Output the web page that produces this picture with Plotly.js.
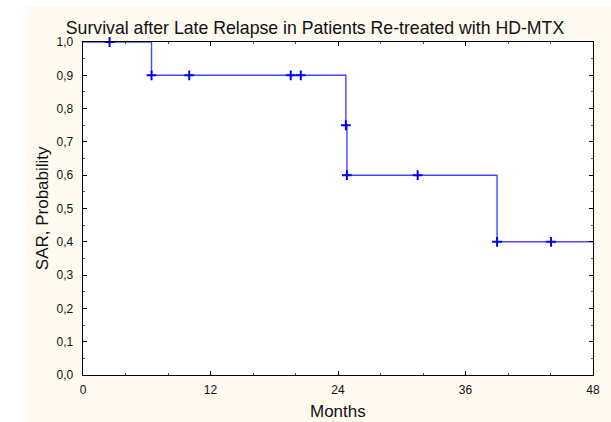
<!DOCTYPE html>
<html>
<head>
<meta charset="utf-8">
<script src="https://cdn.plot.ly/plotly-3.0.1.min.js"></script>
<style>
  html, body { margin: 0; padding: 0; background: #ffffff; width: 611px; height: 422px; overflow: hidden; }
  #chart { position: absolute; left: 26px; top: 6px; width: 585px; height: 416px; }
</style>
</head>
<body>
<div id="chart"></div>
<script>
// Kaplan-Meier step curve (months, survival probability)
const stepMonths = [0, 6.45, 24.74, 24.84, 38.97, 48];
const stepSurvival = [1.0, 0.9, 0.75, 0.6, 0.4, 0.4];

// Plus markers along the curve
const markMonths = [2.5, 6.45, 10.0, 19.55, 20.5, 24.74, 24.84, 31.5, 38.97, 44.05];
const markSurvival = [1.0, 0.9, 0.9, 0.9, 0.9, 0.75, 0.6, 0.6, 0.4, 0.4];

const xTicks = [0, 12, 24, 36, 48];
const yTicks = [0, 0.1, 0.2, 0.3, 0.4, 0.5, 0.6, 0.7, 0.8, 0.9, 1.0];

const font = 'Liberation Sans, Arial, sans-serif';

const traces = [
  {
    x: stepMonths, y: stepSurvival,
    type: 'scatter', mode: 'lines',
    line: { shape: 'hv', color: '#4646ff', width: 1.4 },
    cliponaxis: false, hoverinfo: 'skip'
  },
  {
    x: markMonths, y: markSurvival,
    type: 'scatter', mode: 'markers',
    marker: { symbol: 'cross-thin', size: 7, line: { color: '#0000ff', width: 2 }, color: '#0000ff' },
    cliponaxis: false, hoverinfo: 'skip'
  }
];

const axisCommon = {
  showline: true, linecolor: '#000000', linewidth: 1.3, mirror: 'ticks',
  ticks: 'inside', ticklen: 4, tickwidth: 1, tickcolor: '#000000',
  showgrid: false, zeroline: false,
  tickfont: { family: font, size: 12, color: '#111111' }
};

const layout = {
  width: 585, height: 416,
  margin: { l: 57, r: 18, t: 36, b: 47, pad: 0 },
  paper_bgcolor: '#fefaf0', plot_bgcolor: '#ffffff',
  separators: ',.',
  showlegend: false,
  title: {
    text: 'Survival after Late Relapse in Patients Re-treated with HD-MTX',
    font: { family: font, size: 17.7, color: '#111111' },
    xref: 'container', x: 0.494, xanchor: 'center',
    yref: 'container', y: 0.948, yanchor: 'middle'
  },
  xaxis: Object.assign({}, axisCommon, {
    range: [0, 48], tickmode: 'array', tickvals: xTicks,
    ticktext: xTicks.map(String),
    minor: { dtick: 4, ticks: 'inside', ticklen: 2, tickcolor: '#555555' },
    ticklabelstandoff: 3
  }),
  yaxis: Object.assign({}, axisCommon, {
    range: [0, 1], tickmode: 'array', tickvals: yTicks,
    tickformat: '.1f',
    minor: { dtick: 0.05, ticks: 'inside', ticklen: 2, tickcolor: '#555555' },
    ticklabelstandoff: 6
  }),
  annotations: [
    {
      text: 'SAR, Probability', xref: 'paper', yref: 'paper',
      x: -0.079, y: 0.5, xanchor: 'center', yanchor: 'middle',
      textangle: -90, showarrow: false,
      font: { family: font, size: 17, color: '#111111' }
    },
    {
      text: 'Months', xref: 'paper', yref: 'paper',
      x: 0.5, y: -0.11, xanchor: 'center', yanchor: 'middle',
      showarrow: false,
      font: { family: font, size: 17, color: '#111111' }
    }
  ]
};

Plotly.newPlot('chart', traces, layout, { staticPlot: true, displayModeBar: false });
</script>
</body>
</html>
